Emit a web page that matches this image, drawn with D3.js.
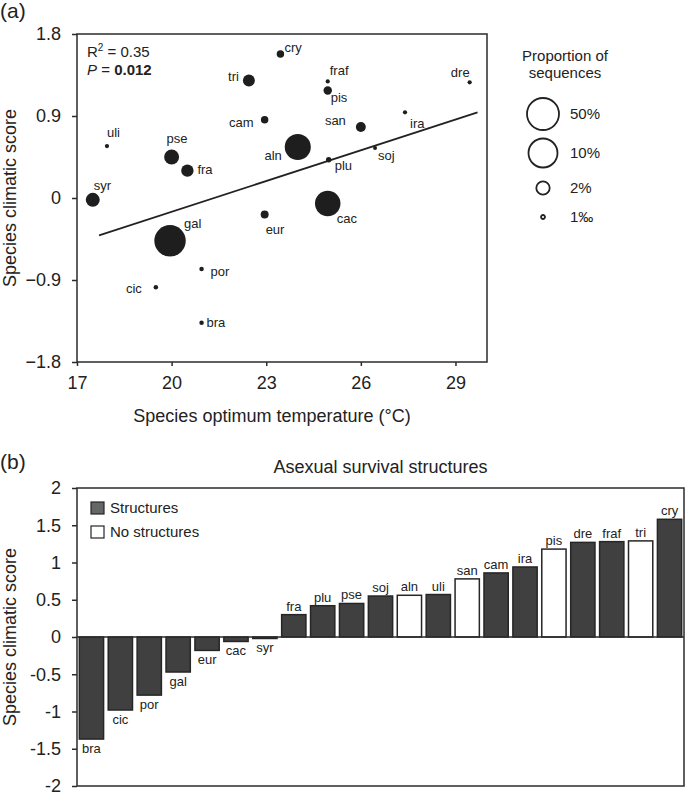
<!DOCTYPE html>
<html lang="en">
<head>
<meta charset="UTF-8">
<title>Species climatic score</title>
<script src="https://d3js.org/d3.v7.min.js"></script>
<style>
  body { margin: 0; background: #fff; }
  svg { display: block; font-family: "Liberation Sans", Arial, sans-serif; }
  .axis path, .axis line { stroke: #2b2b2b; stroke-width: 1.5; }
  .axis text { font-size: 18px; fill: #222; font-family: "Liberation Sans", Arial, sans-serif; }
</style>
</head>
<body>
<svg width="685" height="795"></svg>
<script>
// species, sorted by climatic score (bar order)
var species = ["bra","cic","por","gal","eur","cac","syr","fra","plu","pse","soj","aln","uli","san","cam","ira","pis","dre","fraf","tri","cry"];
var climaticScore = [-1.37,-0.98,-0.78,-0.47,-0.18,-0.06,-0.02,0.30,0.42,0.45,0.55,0.56,0.57,0.78,0.86,0.94,1.18,1.27,1.28,1.29,1.58];
var optimumTemp = [20.95,19.5,20.95,19.95,22.95,24.95,17.5,20.5,24.98,20.0,26.45,24.0,17.95,26.0,22.95,27.4,24.95,29.45,24.95,22.45,23.45];
// proportion of sequences (%)
var seqProportion = [0.2,0.2,0.2,42,0.9,8.2,2.3,1.8,0.38,2.8,0.1,8.5,0.15,1.3,0.8,0.15,1.0,0.15,0.15,1.7,0.8];
// 1 = asexual survival structures, 0 = none
var hasStructures = [1,1,1,1,1,1,1,1,1,1,1,0,1,0,1,1,0,1,1,0,1];

var tempTicks = [17,20,23,26,29];
var scoreTicksA = [-1.8,-0.9,0,0.9,1.8];
var scoreTicksB = [-2,-1.5,-1,-0.5,0,0.5,1,1.5,2];
var fitX = [17.7,29.7];
var fitY = [-0.41,0.94];
var legendSizes = [50,10,2,0.1];
var legendSizeLabels = ["50%","10%","2%","1\u2030"];

// label placement around each point: [dx, dy, anchor]
var labelPos = {
  bra:[5,4,"start"], cic:[-14,6,"end"], por:[9,7,"start"], gal:[14,-13,"start"],
  eur:[1,20,"start"], cac:[9,20,"start"], syr:[1,-10,"start"], fra:[10,3,"start"],
  plu:[6,10,"start"], pse:[-5,-14,"start"], soj:[3,12,"start"], aln:[-16,13,"end"],
  uli:[0,-9,"start"], san:[-15,-2,"end"], cam:[-11,7,"end"], ira:[5,16,"start"],
  pis:[3,12,"start"], dre:[0,-5,"end"], fraf:[2,-6,"start"], tri:[-10,1,"end"],
  cry:[4,-2,"start"]
};

var data = species.map(function(s, i){
  return {name: s, score: climaticScore[i], temp: optimumTemp[i], prop: seqProportion[i], struct: hasStructures[i]};
});

var svg = d3.select("svg");
var ink = "#222";

// ---------- panel (a) ----------
var a = {left: 77, right: 487, top: 34, bottom: 362};

var x = d3.scaleLinear().domain([17,30]).range([a.left, a.right]);
var y = d3.scaleLinear().domain([-1.8,1.8]).range([a.bottom, a.top]);
var r = d3.scaleLinear().domain([0.1,2,10,50]).range([2,6.7,14.5,16]);

svg.append("text").attr("x", 0).attr("y", 18)
  .style("font-size", "21px").attr("fill", ink).text("(a)");

// box
svg.append("rect")
  .attr("x", a.left).attr("y", a.top)
  .attr("width", a.right - a.left).attr("height", a.bottom - a.top)
  .attr("fill", "none").attr("stroke", "#2b2b2b").attr("stroke-width", 1.5);

svg.append("g").attr("class", "axis")
  .attr("transform", "translate(0," + a.bottom + ")")
  .call(d3.axisBottom(x).tickValues(tempTicks).tickSize(4).tickPadding(10).tickFormat(d3.format("d")))
  .call(function(g){ g.select(".domain").remove(); });

svg.append("g").attr("class", "axis")
  .attr("transform", "translate(" + a.left + ",0)")
  .call(d3.axisLeft(y).tickValues(scoreTicksA).tickSize(5).tickPadding(11).tickFormat(function(d){ return d === 0 ? "0" : d3.format(".1f")(d); }))
  .call(function(g){ g.select(".domain").remove(); });

svg.append("text")
  .attr("x", 272).attr("y", 422)
  .attr("text-anchor", "middle")
  .style("font-size", "18px").attr("fill", ink)
  .text("Species optimum temperature (\u00B0C)");

svg.append("text")
  .attr("transform", "translate(16," + ((a.top + a.bottom) / 2) + ") rotate(-90)")
  .attr("text-anchor", "middle")
  .style("font-size", "18px").attr("fill", ink)
  .text("Species climatic score");

// regression line
svg.append("line")
  .attr("x1", x(fitX[0])).attr("y1", y(fitY[0]))
  .attr("x2", x(fitX[1])).attr("y2", y(fitY[1]))
  .attr("stroke", ink).attr("stroke-width", 1.8);

var sorted = data.slice().sort(function(p, q){ return q.prop - p.prop; });

svg.selectAll(".dot")
  .data(sorted)
  .enter()
  .append("circle")
  .attr("class", "dot")
  .attr("cx", function(d){ return x(d.temp); })
  .attr("cy", function(d){ return y(d.score); })
  .attr("r", function(d){ return r(d.prop); })
  .attr("fill", "#1e1e1e");

svg.selectAll(".dotlabel")
  .data(data)
  .enter()
  .append("text")
  .attr("class", "dotlabel")
  .attr("x", function(d){ return x(d.temp) + labelPos[d.name][0]; })
  .attr("y", function(d){ return y(d.score) + labelPos[d.name][1]; })
  .attr("text-anchor", function(d){ return labelPos[d.name][2]; })
  .style("font-size", "13px").attr("fill", ink)
  .text(function(d){ return d.name; });

// stats
var stats = svg.append("text").attr("x", 87).attr("y", 57)
  .style("font-size", "15px").attr("fill", ink);
stats.append("tspan").text("R");
stats.append("tspan").attr("dy", -6).style("font-size", "10px").text("2");
stats.append("tspan").attr("dy", 6).text(" = 0.35");

var pTxt = svg.append("text").attr("x", 87).attr("y", 75)
  .style("font-size", "15px").attr("fill", ink);
pTxt.append("tspan").style("font-style", "italic").text("P");
pTxt.append("tspan").text(" = ");
pTxt.append("tspan").style("font-weight", "bold").text("0.012");

// size legend
svg.append("text").attr("x", 565).attr("y", 61)
  .attr("text-anchor", "middle").style("font-size", "15px").attr("fill", ink)
  .text("Proportion of");
svg.append("text").attr("x", 565).attr("y", 78)
  .attr("text-anchor", "middle").style("font-size", "15px").attr("fill", ink)
  .text("sequences");

var legendY = [114,153,188,217];
var sizeLegend = svg.selectAll(".sizekey")
  .data(legendSizes)
  .enter()
  .append("g")
  .attr("class", "sizekey")
  .attr("transform", function(d, i){ return "translate(543," + legendY[i] + ")"; });

sizeLegend.append("circle")
  .attr("r", function(d){ return r(d); })
  .attr("fill", "#fff").attr("stroke", ink).attr("stroke-width", 1.8);

sizeLegend.append("text")
  .attr("x", 27).attr("y", 5)
  .style("font-size", "15px").attr("fill", ink)
  .text(function(d, i){ return legendSizeLabels[i]; });

// ---------- panel (b) ----------
var b = {left: 77, right: 684, top: 488, bottom: 786};

var xb = d3.scaleBand().domain(species).range([b.left, b.right]).paddingInner(0.16).paddingOuter(0.08);
var yb = d3.scaleLinear().domain([-2,2]).range([b.bottom, b.top]);

svg.append("text").attr("x", 0).attr("y", 469)
  .style("font-size", "21px").attr("fill", ink).text("(b)");

svg.append("text")
  .attr("x", (b.left + b.right) / 2).attr("y", 473)
  .attr("text-anchor", "middle")
  .style("font-size", "18px").attr("fill", ink)
  .text("Asexual survival structures");

svg.append("rect")
  .attr("x", b.left).attr("y", b.top)
  .attr("width", b.right - b.left).attr("height", b.bottom - b.top)
  .attr("fill", "none").attr("stroke", "#2b2b2b").attr("stroke-width", 1.5);

svg.append("g").attr("class", "axis")
  .attr("transform", "translate(" + b.left + ",0)")
  .call(d3.axisLeft(yb).tickValues(scoreTicksB).tickSize(5).tickPadding(11).tickFormat(function(d){ return String(d); }))
  .call(function(g){ g.select(".domain").remove(); });

svg.append("text")
  .attr("transform", "translate(16," + ((b.top + b.bottom) / 2) + ") rotate(-90)")
  .attr("text-anchor", "middle")
  .style("font-size", "18px").attr("fill", ink)
  .text("Species climatic score");

svg.selectAll(".bar")
  .data(data)
  .enter()
  .append("rect")
  .attr("class", "bar")
  .attr("x", function(d){ return xb(d.name); })
  .attr("width", xb.bandwidth())
  .attr("y", function(d){ return yb(Math.max(0, d.score)); })
  .attr("height", function(d){ return Math.abs(yb(d.score) - yb(0)); })
  .attr("fill", function(d){ return d.struct ? "#404040" : "#fff"; })
  .attr("stroke", "#262626").attr("stroke-width", 1.5);

svg.append("line")
  .attr("x1", b.left).attr("x2", b.right)
  .attr("y1", yb(0)).attr("y2", yb(0))
  .attr("stroke", "#2b2b2b").attr("stroke-width", 1.5);

svg.selectAll(".barlabel")
  .data(data)
  .enter()
  .append("text")
  .attr("class", "barlabel")
  .attr("x", function(d){ return xb(d.name) + xb.bandwidth() / 2; })
  .attr("y", function(d){ return d.score >= 0 ? yb(d.score) - 4 : yb(d.score) + 14; })
  .attr("text-anchor", "middle")
  .style("font-size", "13px").attr("fill", ink)
  .text(function(d){ return d.name; });

// legend
var keys = [{label: "Structures", fill: "#666"}, {label: "No structures", fill: "#fff"}];
var key = svg.selectAll(".barkey")
  .data(keys)
  .enter()
  .append("g")
  .attr("class", "barkey")
  .attr("transform", function(d, i){ return "translate(91," + (502 + i * 24) + ")"; });

key.append("rect")
  .attr("width", 13).attr("height", 12)
  .attr("fill", function(d){ return d.fill; })
  .attr("stroke", "#262626").attr("stroke-width", 1.2);

key.append("text")
  .attr("x", 19).attr("y", 11)
  .style("font-size", "15px").attr("fill", ink)
  .text(function(d){ return d.label; });
</script>
</body>
</html>
